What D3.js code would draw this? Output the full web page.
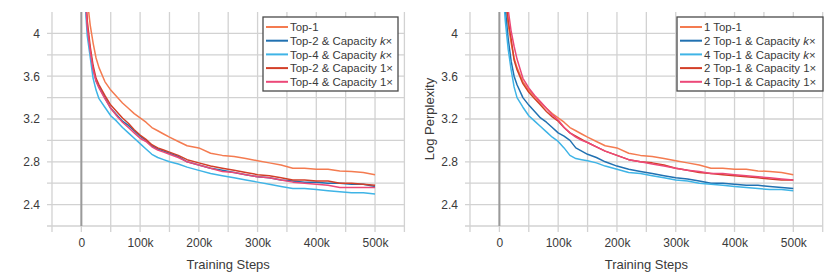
<!DOCTYPE html>
<html>
<head>
<meta charset="utf-8">
<script src="https://cdnjs.cloudflare.com/ajax/libs/d3/7.8.5/d3.min.js"></script>
<style>
	body { margin: 0; background: #fff; }
	svg text { font-family: "Liberation Sans", Arial, sans-serif; fill: #3a3a3a; }
	.grid { stroke: #d2d2d2; stroke-width: 1.3; }
	.zero { stroke: #9a9a9a; stroke-width: 2; }
	.curve { fill: none; stroke-width: 1.5; stroke-linejoin: round; }
</style>
</head>
<body>
<div id="chart"></div>
<script>

// training steps shared by every series
var steps = [5e3, 10e3, 15e3, 20e3, 25e3, 30e3, 40e3, 50e3, 60e3, 70e3, 80e3, 90e3,
	100e3, 110e3, 120e3, 130e3, 140e3, 150e3, 165e3, 180e3, 200e3, 220e3, 240e3, 260e3,
	280e3, 300e3, 320e3, 340e3, 360e3, 380e3, 400e3, 420e3, 440e3, 460e3, 480e3, 500e3];

// baseline, same run in both panels
var top1 = [4.75, 4.32, 4.08, 3.91, 3.77, 3.68, 3.55, 3.47, 3.41, 3.35, 3.30, 3.25,
	3.21, 3.17, 3.12, 3.09, 3.06, 3.03, 2.99, 2.95, 2.93, 2.88, 2.86, 2.85,
	2.83, 2.81, 2.79, 2.77, 2.74, 2.74, 2.73, 2.73, 2.715, 2.71, 2.70, 2.68];

// left panel
var top2CapK = [4.5, 4.05, 3.84, 3.67, 3.56, 3.50, 3.40, 3.30, 3.24, 3.18, 3.14, 3.09,
	3.04, 3.00, 2.95, 2.92, 2.90, 2.88, 2.85, 2.80, 2.77, 2.74, 2.72, 2.70,
	2.68, 2.66, 2.65, 2.63, 2.62, 2.61, 2.61, 2.60, 2.60, 2.59, 2.59, 2.57];
var top4CapK = [4.4, 3.98, 3.78, 3.58, 3.47, 3.39, 3.31, 3.23, 3.18, 3.12, 3.07, 3.02,
	2.97, 2.92, 2.87, 2.84, 2.82, 2.80, 2.78, 2.75, 2.72, 2.69, 2.67, 2.65,
	2.63, 2.61, 2.59, 2.57, 2.55, 2.55, 2.54, 2.53, 2.52, 2.51, 2.51, 2.50];
var top2Cap1 = [4.6, 4.12, 3.88, 3.70, 3.58, 3.52, 3.42, 3.33, 3.27, 3.21, 3.16, 3.10,
	3.05, 3.01, 2.96, 2.93, 2.91, 2.89, 2.86, 2.82, 2.79, 2.76, 2.74, 2.72,
	2.70, 2.68, 2.67, 2.65, 2.63, 2.63, 2.62, 2.62, 2.60, 2.60, 2.59, 2.58];
var top4Cap1 = [4.5, 4.06, 3.84, 3.66, 3.55, 3.49, 3.39, 3.30, 3.23, 3.17, 3.12, 3.07,
	3.02, 2.99, 2.94, 2.91, 2.89, 2.87, 2.84, 2.80, 2.77, 2.74, 2.71, 2.70,
	2.68, 2.66, 2.65, 2.63, 2.61, 2.60, 2.59, 2.58, 2.56, 2.56, 2.56, 2.56];

// right panel
var two1CapK = [4.55, 4.23, 3.95, 3.74, 3.60, 3.52, 3.40, 3.33, 3.27, 3.21, 3.17, 3.12,
	3.07, 3.04, 3.00, 2.93, 2.90, 2.87, 2.84, 2.80, 2.76, 2.73, 2.71, 2.69,
	2.67, 2.65, 2.64, 2.62, 2.60, 2.60, 2.59, 2.58, 2.58, 2.57, 2.56, 2.55];
var four1CapK = [4.5, 4.12, 3.85, 3.66, 3.50, 3.40, 3.31, 3.23, 3.18, 3.13, 3.08, 3.03,
	2.99, 2.93, 2.86, 2.83, 2.82, 2.81, 2.79, 2.76, 2.73, 2.70, 2.69, 2.67,
	2.65, 2.63, 2.62, 2.60, 2.59, 2.58, 2.57, 2.56, 2.55, 2.54, 2.54, 2.53];
var two1Cap1 = [5.0, 4.45, 4.12, 3.95, 3.75, 3.66, 3.53, 3.45, 3.39, 3.33, 3.27, 3.22,
	3.18, 3.12, 3.07, 3.04, 3.01, 2.98, 2.94, 2.90, 2.86, 2.82, 2.80, 2.79,
	2.77, 2.74, 2.72, 2.70, 2.69, 2.68, 2.67, 2.66, 2.65, 2.64, 2.63, 2.63];
var four1Cap1 = [5.2, 4.6, 4.22, 4.02, 3.88, 3.76, 3.58, 3.49, 3.42, 3.36, 3.30, 3.24,
	3.19, 3.12, 3.07, 3.03, 3.00, 2.98, 2.94, 2.90, 2.86, 2.82, 2.80, 2.78,
	2.76, 2.74, 2.72, 2.71, 2.69, 2.69, 2.68, 2.67, 2.66, 2.65, 2.64, 2.63];

var leftNames = ['Top-1', 'Top-2 & Capacity ', 'Top-4 & Capacity ', 'Top-2 & Capacity 1×', 'Top-4 & Capacity 1×'];
var rightNames = ['1 Top-1', '2 Top-1 & Capacity ', '4 Top-1 & Capacity ', '2 Top-1 & Capacity 1×', '4 Top-1 & Capacity 1×'];
var colors = ['#f47b50', '#2171b1', '#3fb4e6', '#d33f28', '#ec4878'];

var xTicks = [0, 100e3, 200e3, 300e3, 400e3, 500e3];
var yTicks = [2.4, 2.8, 3.2, 3.6, 4];

var W = 830, H = 277;
var svg = d3.select('#chart').append('svg')
	.attr('width', W)
	.attr('height', H);

function styleTicks(a) {
	a.select('.domain').remove();
	a.selectAll('text')
		.style('font-size', '12px')
		.style('font-family', '"Liberation Sans", Arial, sans-serif')
		.attr('fill', '#3a3a3a');
}

function drawPanel(id, x0, x1, series, names, legendX, legendW, yLabel) {
	var x = d3.scaleLinear().domain([-50e3, 550e3]).range([x0, x1]);
	var y = d3.scaleLinear().domain([2.2, 4.2]).range([226, 12]);
	var g = svg.append('g');

	g.append('clipPath').attr('id', 'clip-' + id)
		.append('rect')
		.attr('x', x0).attr('y', y(4.2))
		.attr('width', x1 - x0).attr('height', y(2.2) - y(4.2));

	// grid, with short ticks sticking out left and below
	d3.range(-50e3, 550001, 50e3).forEach(function (v) {
		g.append('line').attr('class', 'grid')
			.attr('x1', x(v)).attr('x2', x(v))
			.attr('y1', y(4.2)).attr('y2', y(2.2) + 6);
	});
	d3.range(0, 10).forEach(function (i) {
		var v = 2.2 + i * 0.2;
		g.append('line').attr('class', 'grid')
			.attr('x1', x0 - 5).attr('x2', x1)
			.attr('y1', y(v)).attr('y2', y(v));
	});
	g.append('line').attr('class', 'zero')
		.attr('x1', x(0)).attr('x2', x(0))
		.attr('y1', y(4.2)).attr('y2', y(2.2));

	var xAxis = d3.axisBottom(x).tickValues(xTicks)
		.tickFormat(function (d) { return d === 0 ? '0' : d / 1000 + 'k'; })
		.tickSize(0).tickPadding(12);
	g.append('g').attr('transform', 'translate(0,' + y(2.2) + ')').call(xAxis).call(styleTicks);

	var yAxis = d3.axisLeft(y).tickValues(yTicks)
		.tickFormat(d3.format('~g')).tickSize(0).tickPadding(0);
	g.append('g').attr('transform', 'translate(' + (x0 - 12) + ',0)').call(yAxis).call(styleTicks);

	g.append('text')
		.attr('x', x(250e3)).attr('y', 269)
		.attr('text-anchor', 'middle')
		.style('font-size', '13px')
		.text('Training Steps');

	if (yLabel) {
		g.append('text')
			.attr('transform', 'translate(' + (x0 - 36) + ',' + ((y(2.2) + y(4.2)) / 2) + ') rotate(-90)')
			.attr('text-anchor', 'middle')
			.style('font-size', '13px')
			.text(yLabel);
	}

	// curves
	var line = d3.line()
		.x(function (d, i) { return x(steps[i]); })
		.y(function (d) { return y(d); });
	var curves = g.append('g').attr('clip-path', 'url(#clip-' + id + ')');
	series.forEach(function (s, i) {
		curves.append('path').attr('class', 'curve')
			.attr('d', line(s))
			.attr('stroke', colors[i]);
	});

	// legend
	var lg = g.append('g');
	lg.append('rect')
		.attr('x', legendX).attr('y', 17)
		.attr('width', legendW).attr('height', 74)
		.attr('fill', '#fff').attr('stroke', '#4a4a4a').attr('stroke-width', 1.3);
	names.forEach(function (n, i) {
		var ly = 27 + i * 13.7;
		lg.append('line')
			.attr('x1', legendX + 3).attr('x2', legendX + 25)
			.attr('y1', ly).attr('y2', ly)
			.attr('stroke', colors[i]).attr('stroke-width', 2);
		var t = lg.append('text')
			.attr('x', legendX + 27).attr('y', ly + 4.2)
			.style('font-size', '11.4px');
		t.append('tspan').text(n);
		if (i === 1 || i === 2) {
			t.append('tspan').style('font-style', 'italic').text('k');
			t.append('tspan').text('×');
		}
	});
}

drawPanel('l', 52, 404.4, [top1, top2CapK, top4CapK, top2Cap1, top4Cap1], leftNames, 263, 135, null);
drawPanel('r', 470, 822.7, [top1, two1CapK, four1CapK, two1Cap1, four1Cap1], rightNames, 677, 146, 'Log Perplexity');

</script>
</body>
</html>
